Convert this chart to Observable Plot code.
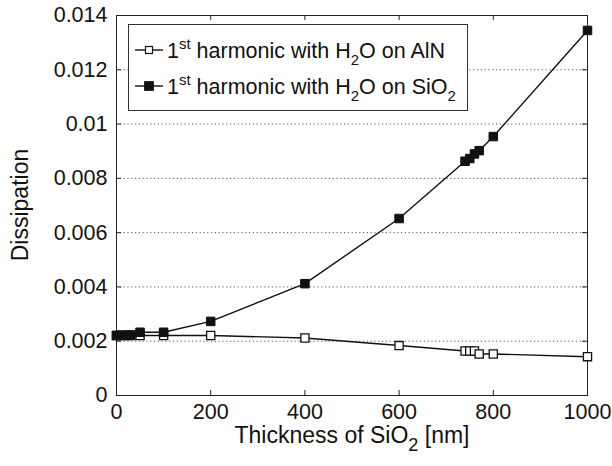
<!DOCTYPE html>
<html>
<head>
<meta charset="utf-8">
<script src="https://cdn.jsdelivr.net/npm/d3@7"></script>
<script src="https://cdn.jsdelivr.net/npm/@observablehq/plot@0.6"></script>
<style>
  html, body { margin: 0; padding: 0; background: #fff; }
  #chart { width: 612px; height: 466px; }
</style>
</head>
<body>
<div id="chart"></div>
<script>
// ---- data ----
const thickness = [0, 10, 20, 30, 50, 100, 200, 400, 600, 740, 750, 760, 770, 800, 1000];
const dissAlN   = [0.00221, 0.00221, 0.00221, 0.00221, 0.00221, 0.00221, 0.00221, 0.00212, 0.00184, 0.00164, 0.00164, 0.00164, 0.00153, 0.00153, 0.00143];
const dissSiO2  = [0.00221, 0.00222, 0.00222, 0.00223, 0.00233, 0.00233, 0.00273, 0.00412, 0.00652, 0.00863, 0.00873, 0.00890, 0.00902, 0.00954, 0.01345];

const xTicks = [0, 200, 400, 600, 800, 1000];
const xTickLabels = ["0", "200", "400", "600", "800", "1000"];
const yTicks = [0, 0.002, 0.004, 0.006, 0.008, 0.01, 0.012, 0.014];
const yTickLabels = ["0", "0.002", "0.004", "0.006", "0.008", "0.01", "0.012", "0.014"];
const gridTicks = [0.002, 0.004, 0.006, 0.008, 0.01, 0.012];

const alnRows = thickness.map((t, i) => ({t, d: dissAlN[i]}));
const sioRows = thickness.map((t, i) => ({t, d: dissSiO2[i]}));

const FONT = "'Liberation Sans', Arial, Helvetica, sans-serif";
const INK = "#111";
const W = 612, H = 466, ML = 116, MR = 25, MT = 15, MB = 71;
const PW = W - ML - MR, PH = H - MT - MB, TL = 5;

const chart = Plot.plot({
  width: W,
  height: H,
  marginLeft: ML,
  marginRight: MR,
  marginTop: MT,
  marginBottom: MB,
  style: {fontFamily: FONT, background: "#fff", color: INK, overflow: "visible"},
  x: {domain: [0, 1000], label: null},
  y: {domain: [0, 0.014], label: null},
  marks: [
    Plot.gridY(gridTicks, {stroke: "#555", strokeOpacity: 1, strokeDasharray: "1.2,2.6", strokeWidth: 1}),
    Plot.frame({stroke: "#222", strokeWidth: 1}),
    Plot.axisX({anchor: "bottom", ticks: xTicks, tickSize: 0, tickPadding: 8, fontSize: 21.5,
      tickFormat: d => xTickLabels[xTicks.indexOf(d)], label: null}),
    Plot.axisY({anchor: "left", ticks: yTicks, tickSize: 0, tickPadding: 9, fontSize: 21.5,
      tickFormat: d => yTickLabels[yTicks.indexOf(d)], label: null}),
    // inward ticks on all four sides
    Plot.ruleX(xTicks, {x: d => d, insetTop: PH - TL, stroke: "#222"}),
    Plot.ruleX(xTicks, {x: d => d, insetBottom: PH - TL, stroke: "#222"}),
    Plot.ruleY(yTicks, {y: d => d, insetRight: PW - TL, stroke: "#222"}),
    Plot.ruleY(yTicks, {y: d => d, insetLeft: PW - TL, stroke: "#222"}),
    Plot.line(alnRows, {x: "t", y: "d", stroke: INK, strokeWidth: 1.4}),
    Plot.dot(alnRows, {x: "t", y: "d", symbol: "square", r: 4.6, fill: "#fff", stroke: INK, strokeWidth: 1.3}),
    Plot.line(sioRows, {x: "t", y: "d", stroke: INK, strokeWidth: 1.4}),
    Plot.dot(sioRows, {x: "t", y: "d", symbol: "square", r: 4.8, fill: INK, stroke: INK, strokeWidth: 1})
  ]
});

document.getElementById("chart").appendChild(chart);

// ---- rich-text labels and legend (need sub/superscripts) ----
const svg = d3.select(chart);

// y label
svg.append("text")
  .attr("transform", "translate(28,205) rotate(-90)")
  .attr("text-anchor", "middle")
  .attr("font-family", FONT).attr("font-size", 23).attr("fill", INK)
  .text("Dissipation");

// x label
const xl = svg.append("text")
  .attr("x", 352).attr("y", 443)
  .attr("text-anchor", "middle")
  .attr("font-family", FONT).attr("font-size", 23).attr("fill", INK);
xl.append("tspan").text("Thickness of SiO");
xl.append("tspan").attr("font-size", 18).attr("dy", 8).text("2");
xl.append("tspan").attr("dy", -8).text(" [nm]");

// legend
const legendNames = [["AlN", null], ["SiO", "2"]];
const lg = svg.append("g");
lg.append("rect").attr("x", 128.5).attr("y", 24.5).attr("width", 339).attr("height", 86)
  .attr("fill", "#fff").attr("stroke", "#333").attr("stroke-width", 1);
const rowsY = [50, 86];
legendNames.forEach((nm, i) => {
  const y = rowsY[i];
  lg.append("line").attr("x1", 135).attr("x2", 163).attr("y1", y).attr("y2", y)
    .attr("stroke", INK).attr("stroke-width", 1.4);
  const s = i === 0 ? 7 : 8.5;
  lg.append("rect").attr("x", 149 - s / 2).attr("y", y - s / 2).attr("width", s).attr("height", s)
    .attr("fill", i === 0 ? "#fff" : INK).attr("stroke", INK).attr("stroke-width", 1.2);
  const t = lg.append("text").attr("x", 167).attr("y", y + 8)
    .attr("text-anchor", "start")
    .attr("font-family", FONT).attr("font-size", 21.5).attr("fill", INK);
  t.append("tspan").text("1");
  t.append("tspan").attr("font-size", 15).attr("dy", -9).text("st");
  t.append("tspan").attr("dy", 9).text(" harmonic with H");
  t.append("tspan").attr("font-size", 15).attr("dy", 7).text("2");
  t.append("tspan").attr("dy", -7).text("O on " + nm[0]);
  if (nm[1]) t.append("tspan").attr("font-size", 15).attr("dy", 7).text(nm[1]);
});
</script>
</body>
</html>
